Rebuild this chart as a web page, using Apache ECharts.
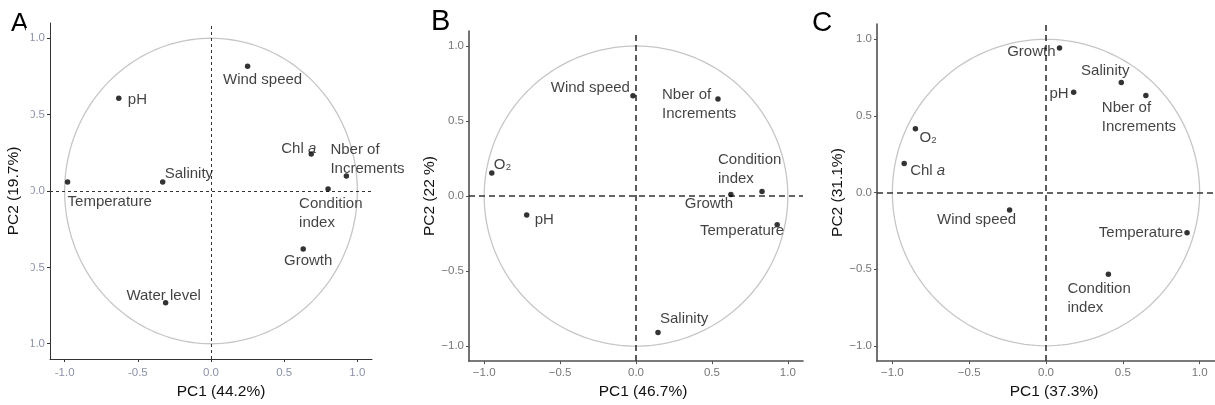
<!DOCTYPE html>
<html><head><meta charset="utf-8">
<script src="https://cdn.jsdelivr.net/npm/echarts@6/dist/echarts.min.js"></script>
<style>html,body{margin:0;padding:0;background:#fff}#c{width:1215px;height:405px}</style>
</head><body><div id="c"></div>
<script>
// ---- data ----
const tickValues = [-1, -0.5, 0, 0.5, 1];
const titlesX = ['PC1 (44.2%)', 'PC1 (46.7%)', 'PC1 (37.3%)'];
const titlesY = ['PC2 (19.7%)', 'PC2 (22 %)', 'PC2 (31.1%)'];
const panelLetters = ['A', 'B', 'C'];

const namesA = ['Wind speed','pH','Chl a','Nber of Increments','Salinity','Temperature','Condition index','Growth','Water level'];
const pc1A = [0.25, -0.63, 0.685, 0.925, -0.33, -0.98, 0.80, 0.63, -0.31];
const pc2A = [0.817, 0.608, 0.242, 0.098, 0.059, 0.059, 0.013, -0.379, -0.732];

const namesB = ['Wind speed','Nber of Increments','O2','Condition index','Growth','pH','Temperature','Salinity'];
const pc1B = [-0.02, 0.54, -0.95, 0.83, 0.625, -0.72, 0.93, 0.145];
const pc2B = [0.669, 0.647, 0.154, 0.031, 0.011, -0.126, -0.192, -0.909];

const namesC = ['Growth','Salinity','pH','Nber of Increments','O2','Chl a','Wind speed','Temperature','Condition index'];
const pc1C = [0.088, 0.49, 0.18, 0.65, -0.85, -0.923, -0.237, 0.918, 0.406];
const pc2C = [0.944, 0.718, 0.654, 0.634, 0.417, 0.19, -0.114, -0.262, -0.533];

// ---- label placement (dx, dy from dot centre; alignment) ----
const labPosA = [[15,14,'center'],[9,2,'left'],[5,-5,'right'],[-16,-17,'left'],[2,-8,'left'],[0,20,'left'],[-29,24,'left'],[5,12,'center'],[-2,-7,'center']];
const labPosB = [[-3,-8,'right'],[-56,5,'left'],[2,-8,'left'],[-44,-22,'left'],[-22,9,'center'],[8,5,'left'],[7,6,'right'],[2,-14,'left']];
const labPosC = [[-4,4,'right'],[-16,-12,'center'],[-5,2,'right'],[-44,22,'left'],[4,9,'left'],[6,7,'left'],[-33,10,'center'],[-4,0,'right'],[-41,24,'left']];

const FONT = '"Liberation Sans", Arial, sans-serif';
function display(n) {
  if (n === 'O2') return '{t|O\u2082}';
  if (n === 'Chl a') return '{t|Chl }{i|a}';
  if (n === 'Nber of Increments') return '{t|Nber of}\n{t|Increments}';
  if (n === 'Condition index') return '{t|Condition}\n{t|index}';
  return '{t|' + n + '}';
}
const rich = {
  t: {fontSize: 15, color: '#111', fontFamily: FONT, lineHeight: 19},
  i: {fontSize: 15, color: '#111', fontFamily: FONT, fontStyle: 'italic', lineHeight: 19}
};

const grids = [
  {left: 50, top: 23, width: 322, height: 336},
  {left: 469, top: 31, width: 334, height: 332},
  {left: 877, top: 24, width: 340, height: 340}
];
const styleP = [
  {axisColor: '#333', axisW: 1, labColor: '#8d91a8', dash: [3, 3], dashW: 1, minus: '-', nameGapX: 23, nameGapY: 25, padX: 20},
  {axisColor: '#505050', axisW: 1.6, labColor: '#777', dash: [6, 4], dashW: 1.6, minus: '\u2212', nameGapX: 22, nameGapY: 26, padX: 14},
  {axisColor: '#505050', axisW: 1.6, labColor: '#777', dash: [6, 4], dashW: 1.6, minus: '\u2212', nameGapX: 21, nameGapY: 28, padX: 16}
];
const panels = [[namesA, pc1A, pc2A, labPosA], [namesB, pc1B, pc2B, labPosB], [namesC, pc1C, pc2C, labPosC]];

const xAxis = [], yAxis = [], series = [];
panels.forEach((p, k) => {
  const st = styleP[k];
  const fmt = v => (v < 0 ? st.minus : '') + Math.abs(v).toFixed(1);
  const common = {
    type: 'value', gridIndex: k, min: -1.1, max: 1.1,
    splitLine: {show: false},
    axisLine: {show: true, onZero: false, lineStyle: {color: st.axisColor, width: st.axisW}},
    axisTick: {show: true, length: 3, customValues: tickValues, lineStyle: {color: st.axisColor, width: 1}},
    axisLabel: {customValues: tickValues, formatter: fmt, color: st.labColor, fontSize: 11.5, fontFamily: FONT},
    nameLocation: 'middle',
    nameTextStyle: {fontSize: 15.5, color: '#111', fontFamily: FONT}
  };
  xAxis.push(Object.assign({}, common, {
    name: titlesX[k], nameGap: st.nameGapX,
    axisLabel: Object.assign({}, common.axisLabel, {margin: k === 0 ? 8 : 6}),
    nameTextStyle: Object.assign({}, common.nameTextStyle, {padding: [0, 0, 0, st.padX]})
  }));
  yAxis.push(Object.assign({}, common, {
    name: titlesY[k], nameGap: st.nameGapY, nameRotate: 90,
    axisLabel: Object.assign({}, common.axisLabel, {margin: 5})
  }));
  // unit circle
  series.push({
    type: 'custom', xAxisIndex: k, yAxisIndex: k, silent: true, clip: false, z: 1,
    data: [[0, 0]],
    renderItem: (params, api) => {
      const pts = [];
      for (let a = 0; a <= 360; a += 2) {
        const r = a * Math.PI / 180;
        pts.push(api.coord([Math.cos(r), Math.sin(r)]));
      }
      return {type: 'polyline', shape: {points: pts}, style: {stroke: '#c6c6c6', fill: null, lineWidth: 1.3}};
    }
  });
  const [names, xs, ys, lp] = p;
  series.push({
    type: 'scatter', xAxisIndex: k, yAxisIndex: k, z: 5,
    symbolSize: 5.5, itemStyle: {color: '#000'},
    data: names.map((n, i) => ({
      value: [xs[i], ys[i]], name: n,
      label: {show: true, position: 'inside', offset: [lp[i][0], lp[i][1]], align: lp[i][2], verticalAlign: 'middle',
        formatter: display(n), rich: rich}
    })),
    markLine: {
      silent: true, symbol: 'none', label: {show: false},
      lineStyle: {color: '#333', type: st.dash, width: st.dashW},
      data: [{xAxis: 0}, {yAxis: 0}]
    }
  });
});

const graphic = [
  {type: 'text', left: 11, top: 11, style: {text: panelLetters[0], fontSize: 26, fill: '#000', fontFamily: FONT}},
  {type: 'text', left: 431, top: 7, style: {text: panelLetters[1], fontSize: 29, fill: '#000', fontFamily: FONT}},
  {type: 'text', left: 812, top: 9, style: {text: panelLetters[2], fontSize: 28, fill: '#000', fontFamily: FONT}},
  {type: 'rect', shape: {x: 25.8, y: 28, width: 5, height: 325}, style: {fill: '#fff'}, z: 100}
];

const chart = echarts.init(document.getElementById('c'), null, {renderer: 'canvas'});
chart.setOption({
  animation: false,
  grid: grids,
  xAxis: xAxis,
  yAxis: yAxis,
  series: series,
  graphic: graphic
});
</script></body></html>
